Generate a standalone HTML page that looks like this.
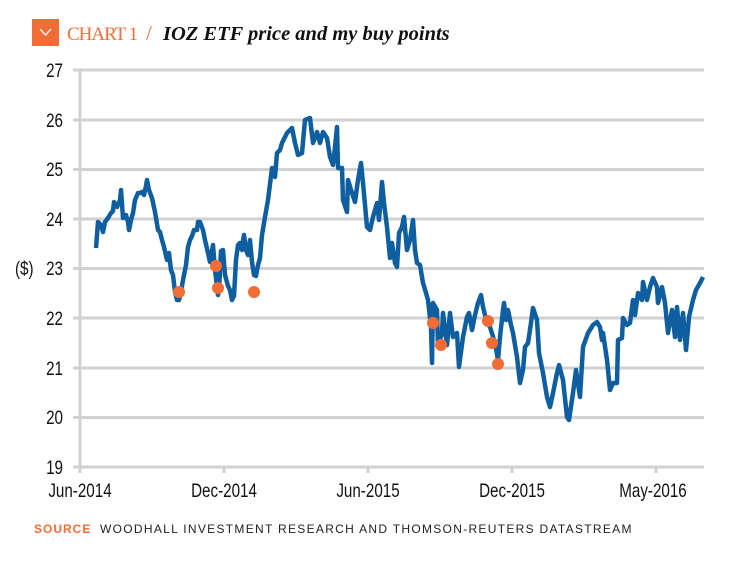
<!DOCTYPE html>
<html><head><meta charset="utf-8"><style>
body{margin:0;background:#fff;}
svg{display:block;}
.t{font-family:"Liberation Sans",sans-serif;font-size:19px;fill:#111;}
</style></head><body>
<svg width="734" height="562" viewBox="0 0 734 562" xmlns="http://www.w3.org/2000/svg">
<rect x="32" y="19" width="27" height="27" fill="#f26d35"/>
<polyline points="40,29 45.5,35 51,29" fill="none" stroke="#fff" stroke-width="1.3"/>
<text x="67" y="40" font-family="Liberation Serif,serif" font-size="19" fill="#f26d35" letter-spacing="-1">CHART 1</text>
<text x="146" y="40" font-family="Liberation Serif,serif" font-size="21" fill="#f26d35">/</text>
<text x="163" y="40" font-family="Liberation Serif,serif" font-size="20.5" font-style="italic" font-weight="bold" fill="#111">IOZ ETF price and my buy points</text>
<g stroke="#d0d1d3" stroke-width="3">
<line x1="73" y1="70" x2="704" y2="70"/><line x1="73" y1="120" x2="704" y2="120"/><line x1="73" y1="169.5" x2="704" y2="169.5"/><line x1="73" y1="219" x2="704" y2="219"/><line x1="73" y1="268.5" x2="704" y2="268.5"/><line x1="73" y1="318" x2="704" y2="318"/><line x1="73" y1="368" x2="704" y2="368"/><line x1="73" y1="417.5" x2="704" y2="417.5"/><line x1="73" y1="467" x2="704" y2="467"/>
<line x1="80" y1="70" x2="80" y2="473"/>
<line x1="224" y1="467" x2="224" y2="473"/><line x1="368" y1="467" x2="368" y2="473"/><line x1="512" y1="467" x2="512" y2="473"/><line x1="656" y1="467" x2="656" y2="473"/>
</g>
<g class="t" text-anchor="end">
<text x="63" y="77" transform="translate(63 0) scale(0.8 1) translate(-63 0)">27</text>
<text x="63" y="127" transform="translate(63 0) scale(0.8 1) translate(-63 0)">26</text>
<text x="63" y="176" transform="translate(63 0) scale(0.8 1) translate(-63 0)">25</text>
<text x="63" y="226" transform="translate(63 0) scale(0.8 1) translate(-63 0)">24</text>
<text x="63" y="275" transform="translate(63 0) scale(0.8 1) translate(-63 0)">23</text>
<text x="63" y="325" transform="translate(63 0) scale(0.8 1) translate(-63 0)">22</text>
<text x="63" y="375" transform="translate(63 0) scale(0.8 1) translate(-63 0)">21</text>
<text x="63" y="424" transform="translate(63 0) scale(0.8 1) translate(-63 0)">20</text>
<text x="63" y="474" transform="translate(63 0) scale(0.8 1) translate(-63 0)">19</text>
</g>
<text class="t" x="15" y="275" transform="translate(15 0) scale(0.8 1) translate(-15 0)">($)</text>
<g class="t" text-anchor="middle">
<text x="80" y="497" transform="translate(80 0) scale(0.8 1) translate(-80 0)">Jun-2014</text>
<text x="224" y="497" transform="translate(224 0) scale(0.8 1) translate(-224 0)">Dec-2014</text>
<text x="368" y="497" transform="translate(368 0) scale(0.8 1) translate(-368 0)">Jun-2015</text>
<text x="512" y="497" transform="translate(512 0) scale(0.8 1) translate(-512 0)">Dec-2015</text>
<text x="653" y="497" transform="translate(653 0) scale(0.8 1) translate(-653 0)">May-2016</text>
</g>
<text x="34" y="533" font-family="Liberation Sans,sans-serif" font-size="12" font-weight="bold" fill="#f26d35" letter-spacing="1">SOURCE</text>
<text x="100" y="533" font-family="Liberation Sans,sans-serif" font-size="12" fill="#222" letter-spacing="1.3">WOODHALL INVESTMENT RESEARCH AND THOMSON-REUTERS DATASTREAM</text>
<polyline fill="none" stroke="#0f5fa0" stroke-width="4.5" stroke-linejoin="round" points="96,248 98,222 101,225 103,232 105,222 108,218 111,213 113,211 114,202 117,207 120,200 121,190 123,218 126,215 128,222 129,230 131,220 133,213 135,200 138,193 140,193 142,192 144,195 146,186 147,180 149,190 152,198 155,212 158,230 160,232 162,240 164,247 167,260 169,253 171,270 173,275 175,292 177,300 179,300 181,292 183,280 186,265 188,247 190,240 192,236 194,230 197,230 198,222 200,222 203,230 205,240 208,253 210,262 213,245 215,270 218,295 219,290 221,251 223,250 225,275 228,286 230,290 232,300 234,296 236,260 238,245 240,243 242,250 243,241 244,235 246,250 248,255 250,240 252,262 254,275 256,276 258,265 260,258 262,235 265,217 268,200 272,168 275,177 277,153 280,150 282,143 287,133 292,128 295,143 298,155 302,153 305,120 310,118 313,143 317,132 320,143 323,132 327,138 330,157 333,165 335,147 337,127 338,168 342,168 343,200 347,212 348,180 352,193 355,202 358,180 361,163 363,183 367,227 370,230 373,217 377,203 379,220 382,182 384,203 387,227 390,258 392,243 395,263 397,267 399,233 402,227 404,217 407,250 410,240 413,220 415,250 417,263 420,265 423,283 426,293 428,300 431,327 432,363 433,303 437,310 438,347 442,333 443,313 447,345 450,313 453,337 457,333 459,367 463,337 467,317 469,313 472,330 475,315 478,303 481,295 483,307 487,323 490,327 495,343 498,360 500,337 503,310 504,303 506,320 508,310 511,325 513,333 517,357 520,383 523,370 525,347 528,343 531,323 533,308 537,320 539,353 543,373 547,397 550,407 553,393 557,373 559,365 563,380 567,417 569,420 573,393 576,370 580,397 583,347 588,333 593,325 597,322 600,327 602,340 603,333 607,360 610,390 613,383 617,383 618,340 622,338 623,318 627,325 630,323 633,300 635,315 638,293 642,300 643,282 647,300 650,287 653,278 657,287 658,303 662,287 665,303 668,333 672,310 675,337 677,307 680,340 683,313 686,350 689,317 693,300 696,290 700,283 703,277"/>
<g fill="#f26d35">
<circle cx="179" cy="292" r="6"/><circle cx="216" cy="266" r="6"/><circle cx="218" cy="288" r="6"/><circle cx="254" cy="292" r="6"/><circle cx="433" cy="323" r="6"/><circle cx="441" cy="345" r="6"/><circle cx="488" cy="321" r="6"/><circle cx="492" cy="343" r="6"/><circle cx="498" cy="364" r="6"/>
</g>
</svg>
</body></html>
